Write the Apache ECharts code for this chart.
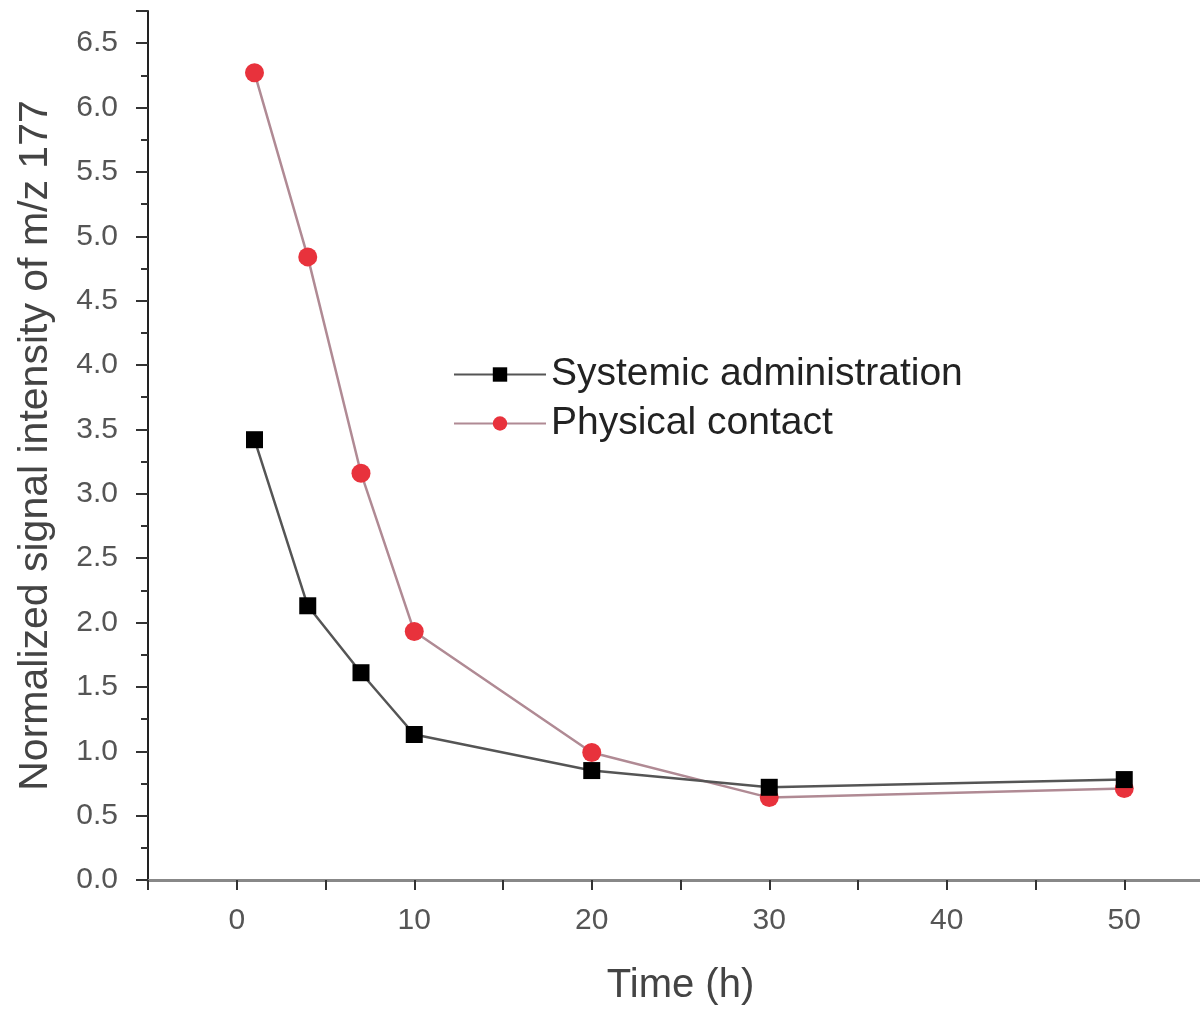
<!DOCTYPE html>
<html>
<head>
<meta charset="utf-8">
<script src="https://cdn.jsdelivr.net/npm/echarts@6/dist/echarts.min.js"></script>
<style>
  html, body { margin: 0; padding: 0; background: #fff; }
  #chart { width: 1200px; height: 1011px; }
</style>
</head>
<body>
<div id="chart"></div>
<script>
// time points (h)
const times = [1, 4, 7, 10, 20, 30, 50];
// normalized signal intensity of m/z 177
const systemic = [3.42, 2.13, 1.61, 1.13, 0.85, 0.72, 0.78];
const physical = [6.27, 4.84, 3.16, 1.93, 0.99, 0.64, 0.71];

const pairs = (xs, ys) => xs.map((x, i) => [x, ys[i]]);

const chart = echarts.init(document.getElementById('chart'));
chart.setOption({
  animation: false,
  grid: { left: 148, top: 11, right: -13, bottom: 131, outerBoundsMode: 'none' },
  legend: {
    left: 448,
    top: 350,
    orient: 'vertical',
    itemWidth: 92,
    itemHeight: 18,
    itemGap: 10,
    textStyle: { fontFamily: 'Liberation Sans', fontSize: 39, color: '#222' },
    data: ['Systemic administration', 'Physical contact']
  },
  xAxis: {
    type: 'value',
    min: -5,
    max: 55,
    interval: 5,
    name: 'Time (h)',
    nameLocation: 'middle',
    nameGap: 86,
    nameTextStyle: { fontFamily: 'Liberation Sans', fontSize: 40, color: '#444' },
    splitLine: { show: false },
    axisLine: { onZero: false, lineStyle: { color: '#888', width: 3 } },
    axisTick: { length: 10, lineStyle: { color: '#333', width: 2 } },
    axisLabel: {
      fontFamily: 'Liberation Sans', fontSize: 30, color: '#555', margin: 26,
      formatter: v => (v >= 0 && v % 10 === 0 ? String(v) : '')
    }
  },
  yAxis: {
    type: 'value',
    min: 0,
    max: 6.75,
    interval: 0.5,
    name: 'Normalized signal intensity of m/z 177',
    nameLocation: 'middle',
    nameGap: 92,
    nameTextStyle: { fontFamily: 'Liberation Sans', fontSize: 41, color: '#444' },
    splitLine: { show: false },
    axisLine: { onZero: false, lineStyle: { color: '#222', width: 2 } },
    axisTick: { length: 12, lineStyle: { color: '#333', width: 2 } },
    minorTick: { show: true, splitNumber: 2, length: 7, lineStyle: { color: '#333', width: 2 } },
    axisLabel: {
      fontFamily: 'Liberation Sans', fontSize: 30, color: '#555', margin: 30,
      formatter: v => (Math.abs(v * 2 - Math.round(v * 2)) < 1e-6 ? v.toFixed(1) : '')
    }
  },
  series: [
    {
      name: 'Systemic administration',
      type: 'line',
      data: pairs(times, systemic),
      symbol: 'rect',
      symbolSize: 17,
      itemStyle: { color: '#000' },
      lineStyle: { color: '#555', width: 2.5 },
      z: 3
    },
    {
      name: 'Physical contact',
      type: 'line',
      data: pairs(times, physical),
      symbol: 'circle',
      symbolSize: 19,
      itemStyle: { color: '#e8323c' },
      lineStyle: { color: '#b08a94', width: 2.5 },
      z: 2
    }
  ]
});
</script>
</body>
</html>
